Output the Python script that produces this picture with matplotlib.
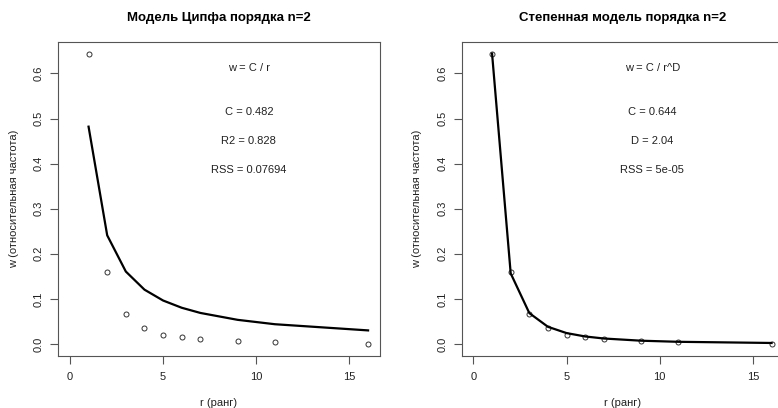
import numpy as np
import matplotlib
matplotlib.use("Agg")
import matplotlib.pyplot as plt

plt.rcParams['font.family'] = ['Liberation Sans', 'DejaVu Sans']

ranks = [1, 2, 3, 4, 5, 6, 7, 9, 11, 16]
w_obs = [0.644, 0.160, 0.067, 0.035, 0.020, 0.0155, 0.011, 0.006, 0.005, 0.001]

C_zipf = 0.482
R2_zipf = 0.828
RSS_zipf = 0.07694
C_pow = 0.644
D_pow = 2.04
RSS_pow = "5e-05"

titles = ["Модель Ципфа порядка n=2", "Степенная модель порядка n=2"]
xlabel = "r (ранг)"
ylabel = "w (относительная частота)"
xticks = [0, 5, 10, 15]
yticks = [0.0, 0.1, 0.2, 0.3, 0.4, 0.5, 0.6]

r = np.array(ranks, dtype=float)
w = np.array(w_obs)
fits = [C_zipf / r, C_pow / r ** D_pow]
texts = [
    ["w = C / r", f"C = {C_zipf}", f"R2 = {R2_zipf}", f"RSS = {RSS_zipf}"],
    ["w = C / r^D", f"C = {C_pow}", f"D = {D_pow}", f"RSS = {RSS_pow}"],
]
text_frac = [0.95, 0.8, 0.7, 0.6]

fig = plt.figure(figsize=(7.78, 4.08), dpi=100)
positions = [[58 / 778, 52.4 / 408, 322 / 778, 313.6 / 408],
             [461.5 / 778, 52.4 / 408, 322 / 778, 313.6 / 408]]
tc = '#222222'
for i in range(2):
    ax = fig.add_axes(positions[i])
    ax.plot(r, w, linestyle='none', marker='o', markersize=3.6,
            markerfacecolor='none', markeredgecolor='#333333', markeredgewidth=0.7)
    ax.plot(r, fits[i], color='black', linewidth=1.6)
    xr = 16.0
    ymax = max(w.max(), fits[i].max())
    ax.set_xlim(-0.04 * xr, xr * 1.04)
    ax.set_ylim(-0.04 * ymax, ymax * 1.04)
    ax.set_xticks(xticks)
    ax.set_yticks(yticks)
    ax.set_yticklabels([f"{v:.1f}" for v in yticks], rotation=90, va='center')
    ax.tick_params(direction='out', length=6, width=0.8, colors='#555555',
                   labelcolor=tc, labelsize=8)
    ax.tick_params(axis='x', pad=6)
    ax.tick_params(axis='y', pad=4)
    for s in ax.spines.values():
        s.set_color('#555555')
        s.set_linewidth(0.8)
    ax.set_xlabel(xlabel, fontsize=8, color=tc, labelpad=11)
    ax.set_ylabel(ylabel, fontsize=8, color=tc, labelpad=11)
    ax.set_title(titles[i], fontsize=9.5, fontweight='bold', pad=15, color='black')
    for t, f in zip(texts[i], text_frac):
        ax.text(0.6 * xr, f * w.max(), t, ha='center', va='center', fontsize=8, color=tc)

fig.savefig("out.png", dpi=100)
